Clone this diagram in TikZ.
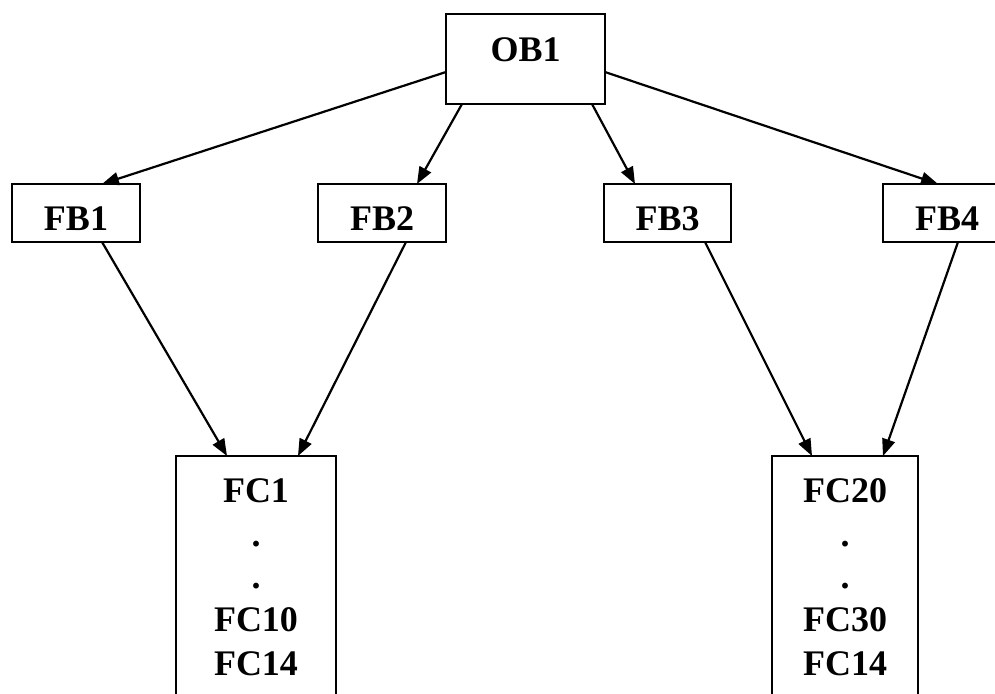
\documentclass[tikz,border=0pt]{standalone}
\usepackage{fontspec}
\setmainfont{Liberation Serif}
\usetikzlibrary{arrows.meta}
\begin{document}
\begin{tikzpicture}[x=1pt,y=-1pt,
  box/.style={draw, line width=2.2pt, inner sep=0pt, outer sep=0pt},
  lbl/.style={font=\fontsize{36}{43}\selectfont\bfseries, anchor=base, inner sep=0pt},
  arr/.style={-{Triangle[length=17pt,width=13pt]}, line width=2.2pt}]
\useasboundingbox (0,0) rectangle (995,693);
\clip (0,0) rectangle (995,693);
\fill[white] (0,0) rectangle (995,693);
% boxes
\node[box, minimum width=159pt, minimum height=90pt] (ob1) at (525.5,59) {};
\node[box, minimum width=128pt, minimum height=58pt] (fb1) at (76,213) {};
\node[box, minimum width=128pt, minimum height=58pt] (fb2) at (382,213) {};
\node[box, minimum width=127pt, minimum height=58pt] (fb3) at (667.5,213) {};
\node[box, minimum width=128pt, minimum height=58pt] (fb4) at (947,213) {};
\node[box, minimum width=160pt, minimum height=280pt] (fc1) at (256,596) {};
\node[box, minimum width=146pt, minimum height=280pt] (fc20) at (845,596) {};
% labels
\node[lbl] (tob1) at (525.5,62) {OB1};
\node[lbl] (tfb1) at (76,230) {FB1};
\node[lbl] (tfb2) at (382,230) {FB2};
\node[lbl] (tfb3) at (667.5,230) {FB3};
\node[lbl] (tfb4) at (947,230) {FB4};
\node[lbl] (tfc1a) at (256,502) {FC1};
\node[lbl] (tfc1b) at (256,546) {.};
\node[lbl] (tfc1c) at (256,588) {.};
\node[lbl] (tfc1d) at (256,631) {FC10};
\node[lbl] (tfc1e) at (256,675) {FC14};
\node[lbl] (tfc2a) at (845,502) {FC20};
\node[lbl] (tfc2b) at (845,546) {.};
\node[lbl] (tfc2c) at (845,588) {.};
\node[lbl] (tfc2d) at (845,631) {FC30};
\node[lbl] (tfc2e) at (845,675) {FC14};
% connectors
\draw[arr] ([yshift=-13pt]ob1.west) -- ([xshift=26pt]fb1.north);
\draw[arr] ([xshift=-63.5pt]ob1.south) -- ([xshift=35pt]fb2.north);
\draw[arr] ([xshift=66.5pt]ob1.south) -- ([xshift=-32.5pt]fb3.north);
\draw[arr] ([yshift=-13pt]ob1.east) -- ([xshift=-9pt]fb4.north);
\draw[arr] ([xshift=26pt]fb1.south) -- ([xshift=-29pt]fc1.north);
\draw[arr] ([xshift=24pt]fb2.south) -- ([xshift=42pt]fc1.north);
\draw[arr] ([xshift=37.5pt]fb3.south) -- ([xshift=-33pt]fc20.north);
\draw[arr] ([xshift=11pt]fb4.south) -- ([xshift=38pt]fc20.north);
\end{tikzpicture}
\end{document}
